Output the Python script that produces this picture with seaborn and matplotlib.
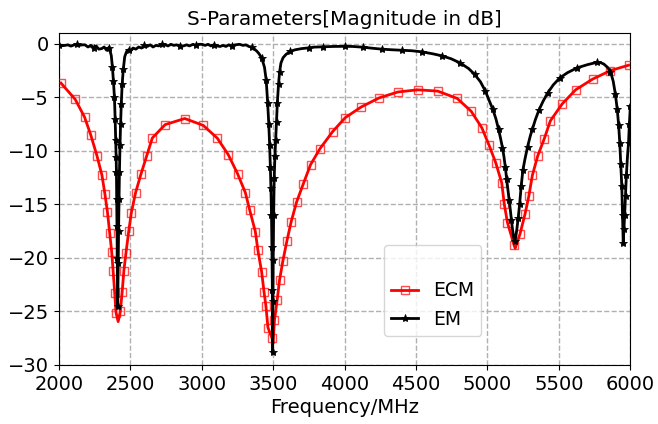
import numpy as np
import matplotlib
matplotlib.use("Agg")
import matplotlib.pyplot as plt
import seaborn as sns

# ECM (red, square markers) values
ecm_freq = [2016, 2116, 2181, 2224, 2268, 2303, 2323, 2341, 2357, 2371, 2381, 2392, 2401,
            2416, 2431, 2444, 2456, 2471, 2490, 2508, 2538, 2575, 2615, 2655, 2745,
            2882, 3011, 3110, 3187, 3252, 3306, 3336, 3376, 3394, 3420, 3437, 3450, 3464,
            3493, 3500, 3510, 3529, 3545, 3569, 3597, 3627, 3664, 3711, 3762, 3828,
            3917, 4005, 4117, 4243, 4374, 4512, 4652, 4788, 4886, 4961, 5012, 5059,
            5100, 5118, 5140, 5186, 5194, 5228, 5263, 5290, 5314, 5351, 5398, 5440,
            5524, 5617, 5736, 5861, 5988]
ecm_db = [-3.67, -5.2, -6.85, -8.5, -10.47, -12.3, -14.0, -15.7, -17.7, -19.45, -21.25, -23.3, -25.1,
          -25.95, -25.0, -23.2, -21.2, -19.5, -17.5, -15.8, -13.9, -12.2, -10.5, -8.8, -7.55,
          -6.98, -7.62, -8.82, -10.37, -12.15, -13.9, -15.5, -17.55, -19.3, -21.3, -23.2, -24.5, -26.5,
          -27.5, -28.0, -25.8, -23.9, -22.1, -20.25, -18.4, -16.6, -14.8, -13.1, -11.3, -9.8,
          -8.2, -6.9, -5.9, -5.05, -4.5, -4.3, -4.42, -5.1, -6.3, -7.85, -9.5, -11.15,
          -13.0, -15.0, -16.7, -18.8, -19.1, -17.75, -15.9, -14.2, -12.3, -10.5, -8.85, -7.2,
          -5.6, -4.3, -3.3, -2.5, -2.0]

# EM (black, star markers) values
em_freq = [2000, 2025, 2044, 2065, 2085, 2105, 2125, 2145, 2165, 2184, 2205, 2225, 2245, 2262,
           2280, 2301, 2318, 2335, 2350, 2360, 2368, 2376, 2383, 2390, 2395, 2399, 2402, 2404,
           2406, 2408, 2410, 2413, 2416, 2419, 2422, 2425, 2429, 2433, 2438, 2444, 2452, 2462,
           2476, 2490, 2505, 2520, 2540, 2560, 2580, 2600, 2620, 2640, 2660, 2680, 2700, 2720,
           2745, 2765, 2785, 2805, 2825, 2850, 2873, 2895, 2915, 2940, 2960, 2980, 3002, 3025,
           3045, 3065, 3085, 3105, 3130, 3150, 3170, 3190, 3210, 3235, 3265, 3290, 3310, 3330,
           3350, 3370, 3387, 3400, 3420, 3440, 3452, 3462, 3470, 3476, 3481, 3485, 3489, 3492,
           3495, 3497, 3499, 3501, 3504, 3508, 3513, 3518, 3524, 3530, 3538, 3546, 3555, 3570,
           3590, 3621, 3655, 3700, 3750, 3790, 3850, 3921, 4000, 4057, 4130, 4197, 4260, 4332,
           4400, 4470, 4540, 4615, 4680, 4746, 4810, 4867, 4910, 4951, 4985, 5012, 5037, 5059,
           5078, 5092, 5105, 5115, 5125, 5134, 5143, 5152, 5160, 5168, 5176, 5184, 5190, 5197,
           5205, 5215, 5225, 5236, 5248, 5262, 5281, 5300, 5314, 5335, 5360, 5390, 5421, 5460,
           5505, 5560, 5627, 5700, 5764, 5790, 5815, 5840, 5861, 5880, 5895, 5908, 5918, 5926,
           5933, 5940, 5945, 5950, 5955, 5960, 5966, 5972, 5980, 5987, 5993, 6000]
em_db = [-0.08, -0.18, -0.15, -0.1, -0.22, -0.12, -0.05, -0.15, -0.1, -0.1, -0.3, -0.15, -0.35, -0.2,
         -0.5, -0.45, -0.3, -0.6, -0.35, -0.7, -1.1, -2.2, -3.5, -5.0, -7.0, -9.0, -10.6, -12.0,
         -14.5, -17.0, -20.0, -24.5, -20.5, -17.5, -14.5, -12.0, -9.5, -7.5, -5.6, -3.8, -2.4, -1.2,
         -0.7, -0.55, -0.65, -0.4, -0.5, -0.3, -0.4, -0.15, -0.25, -0.1, -0.3, -0.15, -0.2, -0.05,
         -0.1, -0.2, -0.05, -0.15, -0.1, -0.2, -0.2, -0.1, -0.2, -0.05, -0.15, -0.05, -0.05, -0.15,
         -0.05, -0.2, -0.1, -0.2, -0.25, -0.15, -0.25, -0.1, -0.2, -0.1, -0.05, -0.15, -0.1, -0.25,
         -0.3, -0.5, -0.7, -0.9, -1.3, -2.2, -3.4, -5.5, -7.5, -9.5, -11.5, -13.5, -16.0, -19.0,
         -23.0, -28.8, -24.0, -20.2, -16.0, -12.5, -10.5, -9.0, -7.3, -5.5, -3.8, -2.6, -1.8, -1.3,
         -1.0, -0.7, -0.56, -0.45, -0.38, -0.31, -0.28, -0.25, -0.24, -0.25, -0.32, -0.42, -0.5, -0.56,
         -0.6, -0.65, -0.75, -0.93, -1.12, -1.4, -1.8, -2.3, -2.85, -3.55, -4.4, -5.3, -6.1, -7.0,
         -8.0, -8.85, -9.7, -10.5, -11.5, -12.6, -13.6, -14.6, -15.5, -16.5, -17.4, -18.1, -18.4, -18.1,
         -17.4, -16.3, -15.0, -13.3, -11.8, -10.8, -9.6, -8.6, -8.0, -7.1, -6.2, -5.35, -4.6, -3.85,
         -3.2, -2.7, -2.25, -1.95, -1.74, -1.75, -1.9, -2.2, -2.6, -3.5, -4.7, -6.1, -7.6, -9.3,
         -11.2, -13.3, -16.0, -18.6, -17.3, -16.0, -14.2, -12.3, -10.5, -9.3, -7.5, -5.8]

x_ticks = [2000, 2500, 3000, 3500, 4000, 4500, 5000, 5500, 6000]
y_ticks = [0, -5, -10, -15, -20, -25, -30]
title = "S-Parameters[Magnitude in dB]"
xlabel = "Frequency/MHz"

fig = plt.figure(figsize=(6.58, 4.24), dpi=100)
ax = fig.add_axes([0.0892, 0.1392, 0.958 - 0.0892, 0.922 - 0.1392])

# markers on the red curve at every read point except the dip tips
ecm_arr = np.array(ecm_db)
ecm_marks = [i for i in range(len(ecm_arr))
             if not (0 < i < len(ecm_arr) - 1 and ecm_arr[i] < ecm_arr[i - 1] and ecm_arr[i] < ecm_arr[i + 1])]

sns.lineplot(x=ecm_freq, y=ecm_db, ax=ax, color="red", linewidth=2, marker="s",
             markersize=6, markerfacecolor="none", markeredgecolor=(1, 0, 0, 0.7),
             markeredgewidth=1.0, markevery=ecm_marks, estimator=None, sort=False,
             label="ECM", zorder=3)
sns.lineplot(x=em_freq, y=em_db, ax=ax, color="black", linewidth=2, marker="*",
             markersize=6, markerfacecolor="black", markeredgecolor="black",
             markeredgewidth=0.6, markevery=0.029, estimator=None, sort=False,
             label="EM", zorder=3)

ax.set_xlim(2000, 6000)
ax.set_ylim(-30, 1.0)
ax.set_xticks(x_ticks)
ax.set_yticks(y_ticks)
ax.tick_params(labelsize=14, colors="black")
ax.grid(True, linestyle="--", color="#b0b0b0", linewidth=1)
ax.set_axisbelow(True)
for s in ax.spines.values():
    s.set_color("black")
ax.set_title(title, fontsize=14.4, pad=6)
ax.set_xlabel(xlabel, fontsize=14, labelpad=3)
ax.set_ylabel("")

leg = ax.legend(loc="lower left", bbox_to_anchor=(0.569, 0.087), borderaxespad=0,
                fontsize=13.5, title=" ", title_fontsize=13.5, handlelength=1.4)

fig.savefig("out.png", dpi=100)
